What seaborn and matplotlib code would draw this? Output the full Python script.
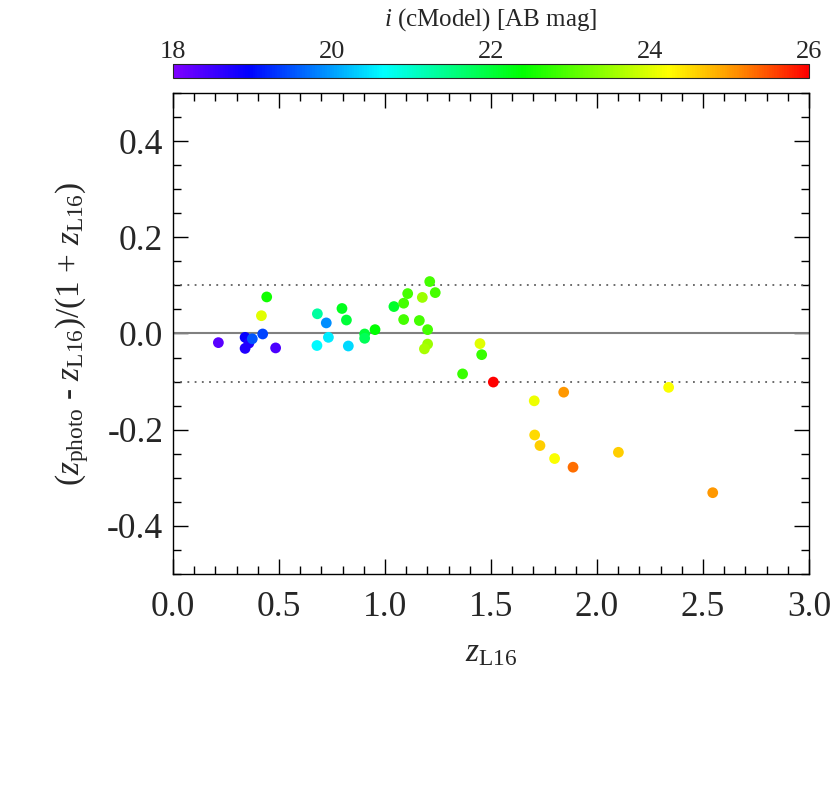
import numpy as np
import pandas as pd
import matplotlib
matplotlib.use("Agg")
import matplotlib.pyplot as plt
import seaborn as sns
from matplotlib.colors import LinearSegmentedColormap, Normalize
from matplotlib.ticker import MultipleLocator
import matplotlib.cm as cm

# ---- data ----
z_l16 = [0.214, 0.340, 0.340, 0.358, 0.374, 0.423, 0.417, 0.442, 0.484,
         0.681, 0.679, 0.723, 0.733, 0.797, 0.818, 0.827, 0.904, 0.904, 0.953,
         1.042, 1.088, 1.107, 1.088, 1.176, 1.162, 1.211, 1.237, 1.201, 1.201, 1.186,
         1.448, 1.456, 1.366, 1.511, 1.843, 1.704, 2.338, 1.706, 1.731, 1.800,
         1.887, 2.101, 2.546]
dz = [-0.019, -0.008, -0.031, -0.020, -0.011, -0.001, 0.037, 0.076, -0.030,
      0.041, -0.025, 0.022, -0.008, 0.052, 0.028, -0.026, -0.001, -0.010, 0.008,
      0.056, 0.063, 0.083, 0.029, 0.075, 0.027, 0.108, 0.085, 0.008, -0.022, -0.032,
      -0.021, -0.044, -0.084, -0.101, -0.122, -0.140, -0.112, -0.211, -0.233, -0.260,
      -0.278, -0.247, -0.331]
imag = [18.3, 18.9, 18.7, 18.7, 19.5, 19.4, 24.0, 22.5, 18.4,
        21.3, 20.6, 19.9, 20.5, 22.2, 22.0, 20.4, 22.0, 21.8, 22.4,
        22.1, 22.9, 22.9, 22.9, 23.5, 22.9, 22.9, 22.9, 22.9, 23.5, 23.6,
        24.0, 22.8, 22.8, 26.0, 25.0, 24.1, 24.2, 24.5, 24.6, 24.2,
        25.3, 24.6, 25.0]

cbar_ticks = [18, 20, 22, 24, 26]
x_ticks = [0.0, 0.5, 1.0, 1.5, 2.0, 2.5, 3.0]
y_ticks = [-0.4, -0.2, 0.0, 0.2, 0.4]

df = pd.DataFrame({"z": z_l16, "dz": dz, "mag": imag})

sns.set_theme(style="white")
plt.rcParams["font.family"] = ["Liberation Serif", "DejaVu Serif"]
plt.rcParams["mathtext.fontset"] = "custom"
plt.rcParams["mathtext.rm"] = "Liberation Serif"
plt.rcParams["mathtext.it"] = "Liberation Serif:italic"
plt.rcParams["axes.unicode_minus"] = False

cmap = LinearSegmentedColormap.from_list(
    "idl_rainbow",
    [(0.0, (0.5, 0.0, 1.0)), (0.117, (0.0, 0.0, 1.0)), (0.33, (0.0, 1.0, 1.0)),
     (0.55, (0.0, 1.0, 0.0)), (0.78, (1.0, 1.0, 0.0)), (0.89, (1.0, 0.55, 0.0)),
     (1.0, (1.0, 0.0, 0.0))])
norm = Normalize(18, 26)

fig = plt.figure(figsize=(8.31, 7.93), dpi=100)
ax = fig.add_axes([0.2082, 0.2762, 0.7653, 0.6065])

ax.axhline(0.0, color="#808080", lw=1.5, zorder=1)
ax.axhline(0.1, color="#606060", lw=1.3, ls=(0, (1, 3)), zorder=1)
ax.axhline(-0.1, color="#606060", lw=1.3, ls=(0, (1, 3)), zorder=1)

sns.scatterplot(data=df, x="z", y="dz", hue="mag", palette=cmap, hue_norm=norm,
                s=60, edgecolor="none", legend=False, ax=ax, zorder=3)

ax.set_xlim(0, 3.0)
ax.set_ylim(-0.5, 0.5)
ax.set_xticks(x_ticks)
ax.set_xticklabels([f"{v:.1f}" for v in x_ticks])
ax.set_yticks(y_ticks)
ax.set_yticklabels([f"{v:.1f}" for v in y_ticks])
ax.xaxis.set_minor_locator(MultipleLocator(0.1))
ax.yaxis.set_minor_locator(MultipleLocator(0.05))
ax.tick_params(which="both", direction="in", top=True, right=True,
               bottom=True, left=True, color="black", width=1.0)
ax.tick_params(which="major", length=11, labelsize=25.5)
ax.tick_params(which="minor", length=6)
ax.tick_params(axis="x", which="major", pad=12)
ax.tick_params(axis="y", which="major", pad=7)
for sp in ax.spines.values():
    sp.set_color("black")
    sp.set_linewidth(1.0)

ax.set_xlabel(r"$z_{\rm L16}$", fontsize=24, labelpad=10)
ax.set_ylabel(r"($z_{\rm photo}$ - $z_{\rm L16}$)/(1 + $z_{\rm L16}$)", fontsize=24, labelpad=12)

cax = fig.add_axes([0.2082, 0.9016, 0.7653, 0.0177])
sm = cm.ScalarMappable(norm=norm, cmap=cmap)
cb = fig.colorbar(sm, cax=cax, orientation="horizontal")
cb.outline.set_linewidth(0.8)
cax.xaxis.set_ticks_position("top")
cax.xaxis.set_label_position("top")
cb.set_ticks(cbar_ticks)
cb.set_ticklabels([str(t) for t in cbar_ticks])
cax.xaxis.set_minor_locator(MultipleLocator(1))
cax.tick_params(which="both", direction="in", top=True, bottom=False, color="#303030",
                width=0.6)
cax.tick_params(which="major", length=4, labelsize=19, pad=1)
cax.tick_params(which="minor", length=3)
cb.set_label(r"$i$ (cModel) [AB mag]", fontsize=18, labelpad=11)

fig.savefig("out.png", dpi=100)
